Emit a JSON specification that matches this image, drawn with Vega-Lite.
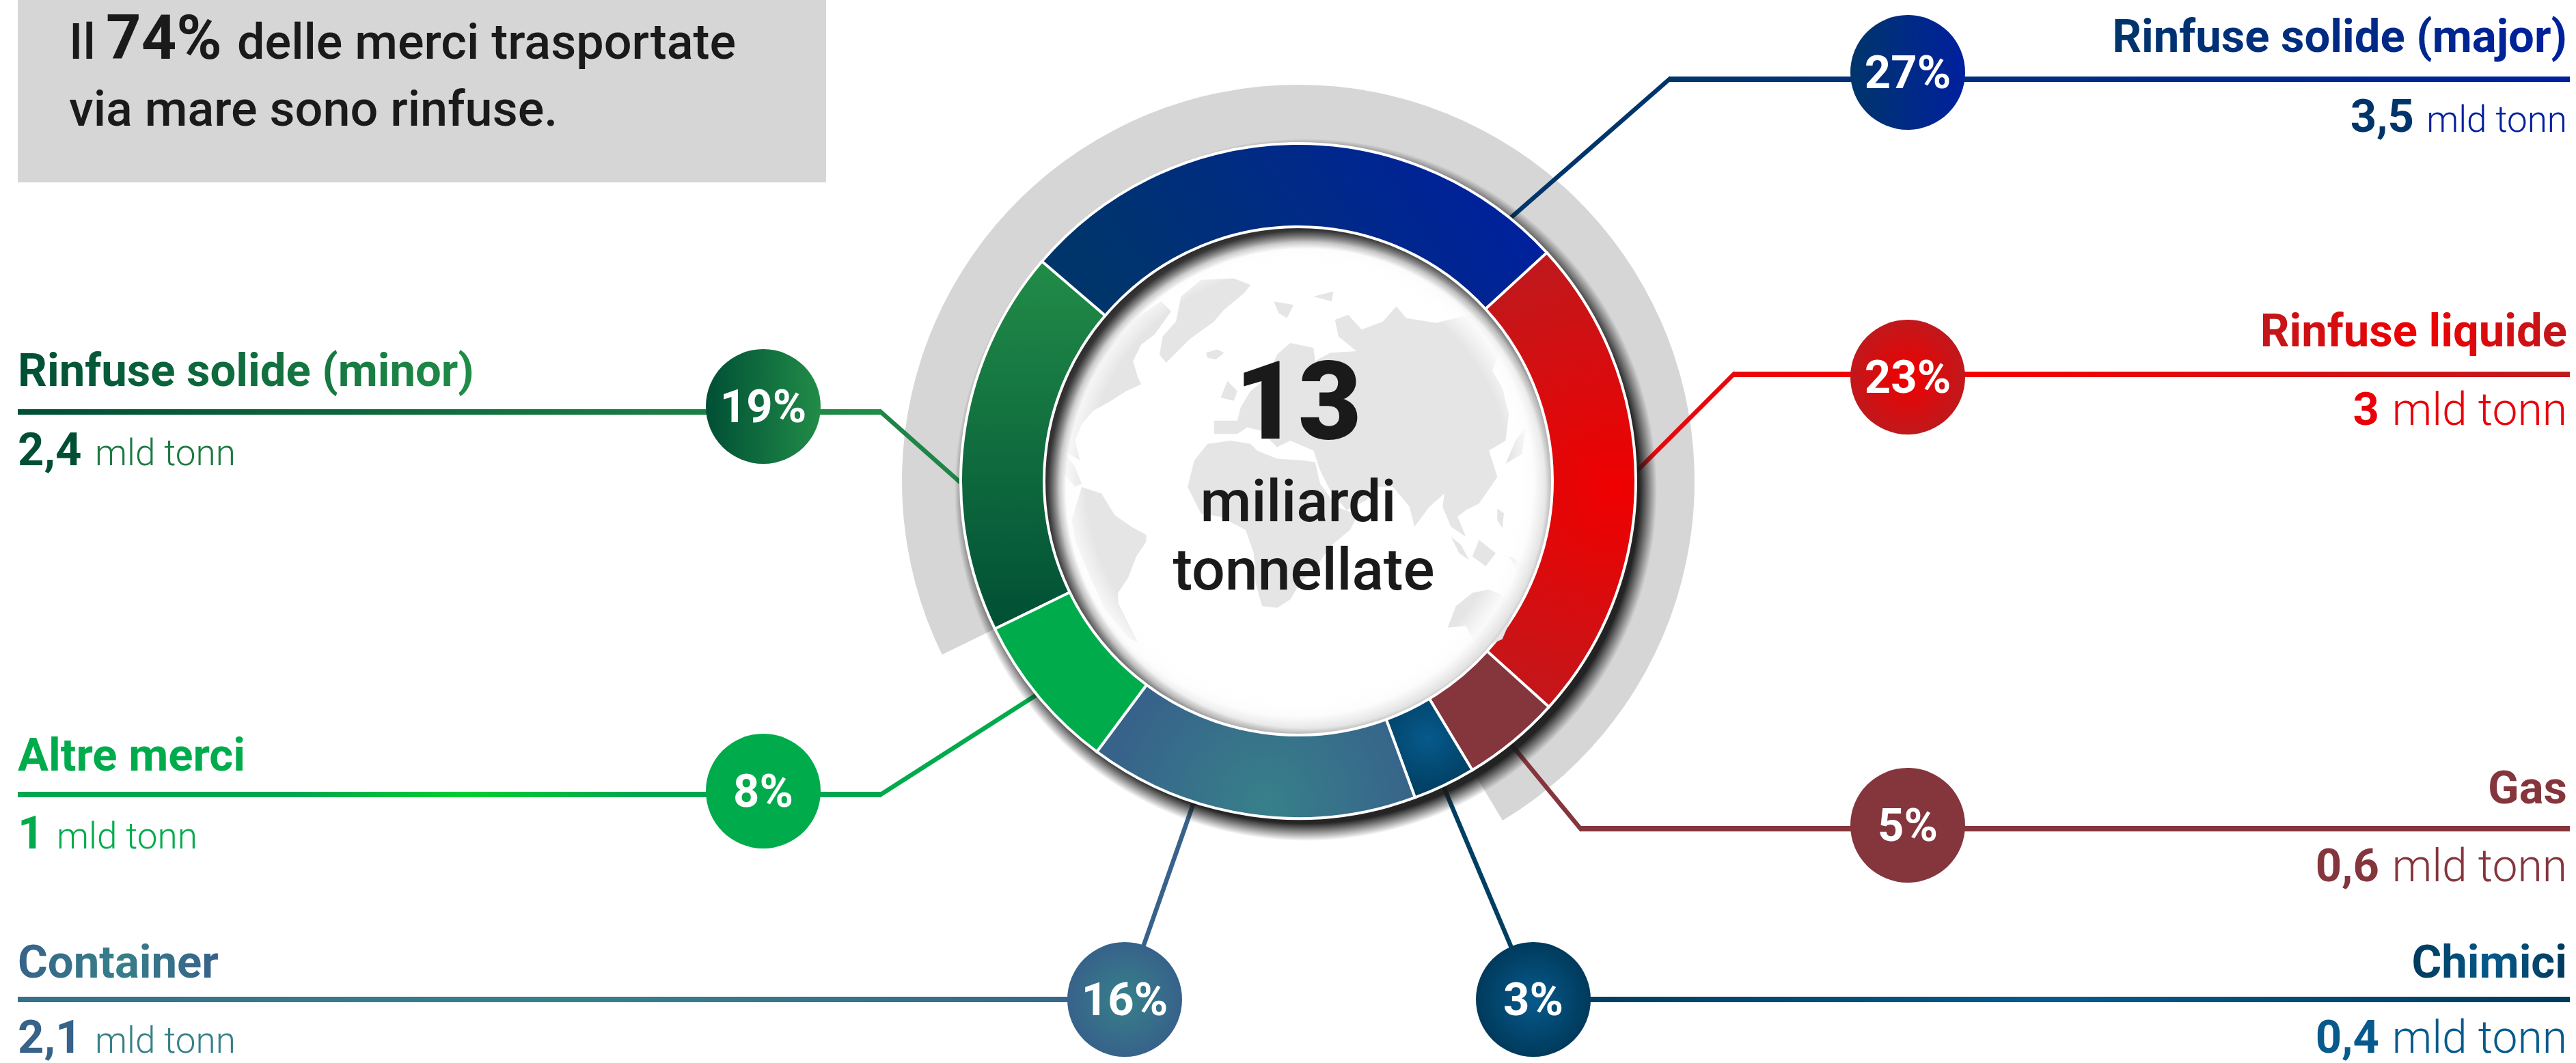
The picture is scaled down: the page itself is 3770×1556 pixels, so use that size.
{
"$schema":"https://vega.github.io/schema/vega-lite/v6.json",
"width":3770,"height":1556,"padding":0,"autosize":{"type":"none"},"background":"white",
"config":{"view":{"stroke":null},"text":{"font":"Roboto"}},
"params":[
{"name":"gMajor","expr":"{gradient:'linear',x1:0,y1:0,x2:1,y2:0,stops:[{offset:0,color:'#00356b'},{offset:1,color:'#00209e'}]}"},
{"name":"gMinor","expr":"{gradient:'linear',x1:0,y1:0,x2:1,y2:0,stops:[{offset:0,color:'#004f35'},{offset:1,color:'#218c48'}]}"},
{"name":"gRed","expr":"{gradient:'radial',x1:0.5,y1:0.5,r1:0,x2:0.5,y2:0.5,r2:0.5,stops:[{offset:0,color:'#f00000'},{offset:1,color:'#c0181c'}]}"},
{"name":"gCont","expr":"{gradient:'radial',x1:0.5,y1:0.5,r1:0,x2:0.5,y2:0.5,r2:0.5,stops:[{offset:0,color:'#37808a'},{offset:1,color:'#37628a'}]}"},
{"name":"gChim","expr":"{gradient:'radial',x1:0.5,y1:0.5,r1:0,x2:0.5,y2:0.5,r2:0.5,stops:[{offset:0,color:'#075a8c'},{offset:1,color:'#003a5c'}]}"},
{"name":"lAltre","expr":"{gradient:'linear',x1:0,y1:0,x2:1,y2:0,stops:[{offset:0.32,color:'#00a651'},{offset:0.52,color:'#00cf30'},{offset:0.72,color:'#00a651'}]}"},
{"name":"lRed","expr":"{gradient:'linear',x1:0,y1:0,x2:1,y2:0,stops:[{offset:0,color:'#e8070c'},{offset:0.27,color:'#f50000'},{offset:1,color:'#bf1b1f'}]}"},
{"name":"lCont","expr":"{gradient:'linear',x1:0,y1:0,x2:1,y2:0,stops:[{offset:0,color:'#37708a'},{offset:0.5,color:'#37808a'},{offset:1,color:'#37658a'}]}"},
{"name":"rMajor","expr":"{gradient:'linear',x1:0.05,y1:0.5,x2:0.95,y2:0.3,stops:[{offset:0,color:'#00356b'},{offset:1,color:'#00209e'}]}"},
{"name":"rMinor","expr":"{gradient:'linear',x1:0.5,y1:0,x2:0.5,y2:1,stops:[{offset:0,color:'#218c48'},{offset:1,color:'#004f35'}]}"},
{"name":"rRed","expr":"{gradient:'radial',x1:0.62,y1:0.52,r1:0,x2:0.62,y2:0.52,r2:0.52,stops:[{offset:0,color:'#f00000'},{offset:1,color:'#c0181c'}]}"},
{"name":"rCont","expr":"{gradient:'radial',x1:0.53,y1:0.66,r1:0,x2:0.53,y2:0.66,r2:0.5,stops:[{offset:0,color:'#37808a'},{offset:1,color:'#37628a'}]}"},
{"name":"rChim","expr":"{gradient:'radial',x1:0.48,y1:0.4,r1:0,x2:0.48,y2:0.4,r2:0.55,stops:[{offset:0,color:'#075a8c'},{offset:1,color:'#003f62'}]}"},
{"name":"ombra","expr":"{gradient:'radial',x1:0.5,y1:0.5,r1:0,x2:0.5,y2:0.5,r2:0.5,stops:[{offset:0,color:'rgba(25,25,25,0.95)'},{offset:0.95,color:'rgba(25,25,25,0.95)'},{offset:1,color:'rgba(25,25,25,0)'}]}"},
{"name":"bordo","expr":"{gradient:'radial',x1:0.5,y1:0.5,r1:0,x2:0.5,y2:0.5,r2:0.5,stops:[{offset:0,color:'rgba(255,255,255,0)'},{offset:0.84,color:'rgba(255,255,255,0)'},{offset:0.93,color:'rgba(252,252,252,0.9)'},{offset:0.985,color:'rgba(228,228,228,1)'},{offset:1,color:'rgba(222,222,222,1)'}]}"},
{"name":"interna","expr":"{gradient:'radial',x1:0.515,y1:0.515,r1:0,x2:0.515,y2:0.515,r2:0.524,stops:[{offset:0.905,color:'rgba(0,0,0,0)'},{offset:0.93,color:'rgba(20,20,20,0.2)'},{offset:0.955,color:'rgba(30,30,30,0.6)'},{offset:0.975,color:'rgba(40,40,40,0.93)'},{offset:1,color:'rgba(40,40,40,1)'}]}"}
],
"datasets":{
"centro":[{"col":13,"riga":19}],
"settori":[
{"categoria":"Rinfuse solide (minor)","quota":18.5,"ordine":1,"col":13,"riga":19},
{"categoria":"Rinfuse solide (major)","quota":26.9,"ordine":2,"col":13,"riga":19},
{"categoria":"Rinfuse liquide","quota":23.5,"ordine":3,"col":13,"riga":19},
{"categoria":"Gas","quota":4.7,"ordine":4,"col":13,"riga":19},
{"categoria":"Chimici","quota":3.0,"ordine":5,"col":13,"riga":19},
{"categoria":"Container","quota":15.8,"ordine":6,"col":13,"riga":19},
{"categoria":"Altre merci","quota":7.6,"ordine":7,"col":13,"riga":19}
],
"raccordi":[
{"categoria":"Rinfuse solide (major)","col":20,"riga":4},{"categoria":"Rinfuse solide (major)","col":16,"riga":8},
{"categoria":"Rinfuse liquide","col":21,"riga":10},{"categoria":"Rinfuse liquide","col":19,"riga":18},
{"categoria":"Gas","col":18,"riga":31},{"categoria":"Gas","col":16,"riga":23},
{"categoria":"Chimici","col":17,"riga":35},{"categoria":"Chimici","col":15,"riga":25},
{"categoria":"Container","col":11,"riga":35},{"categoria":"Container","col":12,"riga":29},
{"categoria":"Altre merci","col":8,"riga":27},{"categoria":"Altre merci","col":10,"riga":22},
{"categoria":"Rinfuse solide (minor)","col":8,"riga":14},{"categoria":"Rinfuse solide (minor)","col":9,"riga":19}
],
"linee":[
{"serie":"Rinfuse solide (major)","col":20,"col2":26,"riga":4},
{"serie":"Rinfuse liquide linea","col":21,"col2":26,"riga":10},
{"serie":"Gas","col":18,"col2":26,"riga":31},
{"serie":"Chimici","col":17,"col2":26,"riga":35},
{"serie":"Container linea","col":0,"col2":11,"riga":35},
{"serie":"Altre merci linea","col":0,"col2":8,"riga":27},
{"serie":"Rinfuse solide (minor)","col":0,"col2":8,"riga":14}
],
"cerchi":[
{"serie":"Rinfuse solide (major)","testo":"27%","col":22,"riga":3},
{"serie":"Rinfuse liquide","testo":"23%","col":22,"riga":11},
{"serie":"Gas","testo":"5%","col":22,"riga":30},
{"serie":"Chimici","testo":"3%","col":17,"riga":35},
{"serie":"Container","testo":"16%","col":11,"riga":35},
{"serie":"Altre merci","testo":"8%","col":6,"riga":26},
{"serie":"Rinfuse solide (minor)","testo":"19%","col":6,"riga":13}
],
"grassettoDx":[
{"serie":"Rinfuse solide (major)","testo":"Rinfuse solide (major)","col":25,"riga":1},
{"serie":"Rinfuse liquide","testo":"Rinfuse liquide","col":25,"riga":9},
{"serie":"Gas","testo":"Gas","col":25,"riga":28},
{"serie":"Chimici","testo":"Chimici","col":25,"riga":34},
{"serie":"major num","testo":"3,5","col":24,"riga":6},
{"serie":"liquide num","testo":"3","col":23,"riga":15},
{"serie":"Gas","testo":"0,6","col":23,"riga":33},
{"serie":"chimici num","testo":"0,4","col":23,"riga":36}
],
"grassettoSx":[
{"serie":"Rinfuse solide (minor)","testo":"Rinfuse solide (minor)","col":0,"riga":12},
{"serie":"Altre merci","testo":"Altre merci","col":0,"riga":24},
{"serie":"Container","testo":"Container","col":0,"riga":34},
{"serie":"minor num","testo":"2,4","col":0,"riga":17},
{"serie":"Altre merci","testo":"1","col":0,"riga":32},
{"serie":"container num","testo":"2,1","col":0,"riga":36}
],
"unitaSx":[
{"serie":"minor unit","testo":"mld tonn","col":3,"riga":17},
{"serie":"Altre merci","testo":"mld tonn","col":1,"riga":32},
{"serie":"container unit","testo":"mld tonn","col":3,"riga":36}
],
"unitaDxPiccola":[{"serie":"major unit","testo":"mld tonn","col":25,"riga":6}],
"unitaDx":[
{"serie":"liquide num","testo":"mld tonn","col":25,"riga":15},
{"serie":"Gas","testo":"mld tonn","col":25,"riga":33},
{"serie":"chimici num","testo":"mld tonn","col":25,"riga":36}
],
"riquadro":[{"col":0,"col2":7,"riga":0,"riga2":7}],
"titolo":[
{"testo":"Il","col":2,"riga":2},
{"testo":"delle merci trasportate","col":5,"riga":2},
{"testo":"via mare sono rinfuse.","col":2,"riga":5}
],
"titoloForte":[{"testo":"74%","col":4,"riga":2}],
"rinfuse":[{"gruppo":"Rinfuse","quota":73.6,"col":13,"riga":19}],
"centrale":[{"testo":"miliardi","col":13,"riga":20},{"testo":"tonnellate","col":14,"riga":21}],
"totale":[{"testo":"13","col":13,"riga":16}]
},
"encoding":{
"x":{"field":"col","type":"quantitative","axis":null,"scale":{"domain":[0,1,2,3,4,5,6,7,8,9,10,11,12,13,14,15,16,17,18,19,20,21,22,23,24,25,26],"range":[26,83,101,139,155,347,1117,1209,1289,1403,1514,1646,1747,1900,1908,2112,2212,2244,2313,2398,2443,2537,2792,3482,3533,3757,3761]}},
"y":{"field":"riga","type":"quantitative","axis":null,"scale":{"domain":[0,1,2,3,4,5,6,7,8,9,10,11,12,13,14,15,16,17,18,19,20,21,22,23,24,25,26,27,28,29,30,31,32,33,34,35,36],"range":[0,76,86,106,116,184,193,267,318,507,548,552,565,595,603,622,642,681,687,704,763,863,1019,1090,1128,1150,1158,1163,1176,1175,1208,1213,1242,1290,1431,1463,1541]}}
},
"layer":[
{"data":{"name":"riquadro"},"mark":{"type":"rect","color":"#d6d6d6"},"encoding":{"x2":{"field":"col2"},"y2":{"field":"riga2"}}},
{"data":{"name":"rinfuse"},"mark":{"type":"arc","radius":580,"radius2":494,"color":"#d6d6d6"},"encoding":{"theta":{"field":"quota","type":"quantitative","stack":true,"scale":{"domain":[0,100],"range":[4.2586,10.5418]}}}},
{"data":{"name":"raccordi"},"mark":{"type":"line","strokeWidth":6.5,"strokeCap":"square"},"encoding":{"stroke":{"field":"categoria","type":"nominal","legend":null,"scale":{"domain":["Rinfuse solide (major)","Rinfuse liquide","Gas","Chimici","Container","Altre merci","Rinfuse solide (minor)"],"range":["#00356b","#e8070c","#85353c","#003f62","#37628a","#00ab4c","#1f8446"]}}}},
{"data":{"name":"linee"},"mark":{"type":"rect","height":8},"encoding":{"x2":{"field":"col2"},"color":{"field":"serie","type":"nominal","legend":null,"scale":{"domain":["Rinfuse solide (major)","Rinfuse liquide","Gas","Chimici","Container","Altre merci","Rinfuse solide (minor)","Rinfuse liquide linea","Altre merci linea","Container linea","major num","major unit","minor num","minor unit","liquide num","container num","container unit","chimici num"],"range":[{"signal":"gMajor"},{"signal":"gRed"},"#85353c",{"signal":"gChim"},{"signal":"gCont"},"#00ab4c",{"signal":"gMinor"},{"signal":"lRed"},{"signal":"lAltre"},{"signal":"lCont"},"#00356b","#00209e","#004f35","#1c7a43","#e8000a","#37628a","#37808a","#075a8c"]}}}},
{"data":{"name":"centro"},"mark":{"type":"point","filled":true,"opacity":1,"size":1056784,"fill":{"expr":"ombra"},"xOffset":11,"yOffset":13}},
{"data":{"name":"settori"},"mark":{"type":"arc","radius":494,"radius2":372,"stroke":"white","strokeWidth":4},"encoding":{"theta":{"field":"quota","type":"quantitative","stack":true,"scale":{"domain":[0,100],"range":[4.2586,10.5418]}},"order":{"field":"ordine"},"fill":{"field":"categoria","type":"nominal","legend":null,"scale":{"domain":["Rinfuse solide (major)","Rinfuse liquide","Gas","Chimici","Container","Altre merci","Rinfuse solide (minor)"],"range":[{"signal":"rMajor"},{"signal":"rRed"},"#85353c",{"signal":"rChim"},{"signal":"rCont"},"#00ab4c",{"signal":"rMinor"}]}}}},
{"data":{"name":"centro"},"mark":{"type":"point","filled":true,"opacity":1,"size":553536,"color":"white"}},
{"data":{"values":{"type":"FeatureCollection","features":[
{"type":"Feature","properties":{"nome":"Groenlandia"},"geometry":{"type":"Polygon","coordinates":[[[430,225],[490,175],[590,170],[640,190],[620,215],[560,265],[530,300],[455,355],[385,425],[365,400],[375,345],[415,300],[430,225]]]}},
{"type":"Feature","properties":{"nome":"Islanda"},"geometry":{"type":"Polygon","coordinates":[[[505,395],[540,385],[560,395],[535,415],[510,410],[505,395]]]}},
{"type":"Feature","properties":{"nome":"Nord America"},"geometry":{"type":"Polygon","coordinates":[[[230,360],[300,285],[370,240],[400,270],[350,340],[310,370],[285,420],[300,470],[310,490],[265,510],[210,545],[165,570],[130,610],[110,660],[125,720],[75,690],[60,620],[75,520],[120,440],[175,400],[230,360]]]}},
{"type":"Feature","properties":{"nome":"Centro America"},"geometry":{"type":"Polygon","coordinates":[[[75,690],[110,740],[130,790],[110,800],[70,750],[75,690]]]}},
{"type":"Feature","properties":{"nome":"Sud America"},"geometry":{"type":"Polygon","coordinates":[[[130,800],[190,820],[230,885],[280,920],[325,945],[325,965],[295,1010],[270,1075],[240,1120],[240,1150],[265,1200],[300,1270],[270,1255],[200,1170],[150,1060],[110,960],[100,900],[130,800]]]}},
{"type":"Feature","properties":{"nome":"Africa"},"geometry":{"type":"Polygon","coordinates":[[[510,670],[580,660],[640,670],[660,690],[720,715],[800,720],[835,725],[850,790],[900,860],[965,885],[940,930],[880,980],[840,1040],[790,1090],[760,1140],[720,1165],[675,1160],[655,1090],[650,1000],[625,930],[550,890],[490,880],[450,800],[470,720],[510,670]]]}},
{"type":"Feature","properties":{"nome":"Madagascar"},"geometry":{"type":"Polygon","coordinates":[[[795,965],[815,950],[810,990],[795,1000],[795,965]]]}},
{"type":"Feature","properties":{"nome":"Eurasia"},"geometry":{"type":"Polygon","coordinates":[[[530,600],[600,600],[610,560],[640,510],[690,470],[720,400],[760,365],[830,380],[835,420],[880,395],[960,390],[905,345],[895,295],[935,280],[975,325],[1040,300],[1080,255],[1110,290],[1200,305],[1300,280],[1360,290],[1400,370],[1370,450],[1400,500],[1420,580],[1410,660],[1360,690],[1385,770],[1330,850],[1290,870],[1265,890],[1290,950],[1245,920],[1220,860],[1225,820],[1180,860],[1135,920],[1120,860],[1070,800],[1020,800],[990,840],[930,870],[880,810],[850,750],[830,690],[760,660],[720,680],[670,630],[630,620],[600,640],[530,640],[530,600]]]}},
{"type":"Feature","properties":{"nome":"Gran Bretagna"},"geometry":{"type":"Polygon","coordinates":[[[550,530],[570,480],[600,510],[590,540],[550,530]]]}},
{"type":"Feature","properties":{"nome":"Sumatra"},"geometry":{"type":"Polygon","coordinates":[[[1245,950],[1275,975],[1300,1020],[1270,1000],[1245,950]]]}},
{"type":"Feature","properties":{"nome":"Borneo"},"geometry":{"type":"Polygon","coordinates":[[[1330,960],[1380,1000],[1350,1040],[1310,1010],[1330,960]]]}},
{"type":"Feature","properties":{"nome":"Nuova Guinea"},"geometry":{"type":"Polygon","coordinates":[[[1420,1010],[1490,1040],[1450,1060],[1420,1010]]]}},
{"type":"Feature","properties":{"nome":"Filippine"},"geometry":{"type":"Polygon","coordinates":[[[1385,865],[1405,880],[1400,925],[1385,900],[1385,865]]]}},
{"type":"Feature","properties":{"nome":"Giappone"},"geometry":{"type":"Polygon","coordinates":[[[1440,660],[1470,620],[1460,700],[1410,730],[1440,660]]]}},
{"type":"Feature","properties":{"nome":"Australia"},"geometry":{"type":"Polygon","coordinates":[[[1235,1225],[1260,1160],[1310,1120],[1360,1110],[1410,1130],[1430,1190],[1400,1260],[1330,1290],[1290,1220],[1235,1225]]]}},
{"type":"Feature","properties":{"nome":"Svalbard"},"geometry":{"type":"Polygon","coordinates":[[[710,240],[770,250],[750,290],[725,275],[710,240]]]}},
{"type":"Feature","properties":{"nome":"Terra di Francesco Giuseppe"},"geometry":{"type":"Polygon","coordinates":[[[830,225],[890,210],[885,240],[830,225]]]}}
]},"format":{"type":"json","property":"features"}},
"projection":{"type":"identity","scale":0.4847,"translate":[1520,325]},
"mark":{"type":"geoshape","color":"#e5e5e5","strokeWidth":0},
"encoding":{"x":null,"y":null}},
{"data":{"name":"centro"},"mark":{"type":"point","filled":true,"opacity":1,"size":547600,"fill":{"expr":"bordo"}}},
{"data":{"name":"centro"},"mark":{"type":"point","filled":true,"opacity":1,"size":547600,"fill":{"expr":"interna"}}},
{"data":{"name":"cerchi"},"mark":{"type":"point","filled":true,"opacity":1,"size":28224},"encoding":{"color":{"field":"serie","type":"nominal","legend":null}}},
{"data":{"name":"cerchi"},"mark":{"type":"text","font":"Roboto","fontSize":67,"fontWeight":700,"color":"white","baseline":"middle","align":"center","dy":3},"encoding":{"text":{"field":"testo"}}},
{"data":{"name":"grassettoDx"},"mark":{"type":"text","font":"Roboto","fontSize":67,"fontWeight":700,"align":"right","baseline":"alphabetic"},"encoding":{"text":{"field":"testo"},"color":{"field":"serie","type":"nominal","legend":null}}},
{"data":{"name":"grassettoSx"},"mark":{"type":"text","font":"Roboto","fontSize":67,"fontWeight":700,"align":"left","baseline":"alphabetic"},"encoding":{"text":{"field":"testo"},"color":{"field":"serie","type":"nominal","legend":null}}},
{"data":{"name":"unitaSx"},"mark":{"type":"text","font":"Roboto","fontSize":53,"fontWeight":300,"align":"left","baseline":"alphabetic"},"encoding":{"text":{"field":"testo"},"color":{"field":"serie","type":"nominal","legend":null}}},
{"data":{"name":"unitaDxPiccola"},"mark":{"type":"text","font":"Roboto","fontSize":53,"fontWeight":300,"align":"right","baseline":"alphabetic"},"encoding":{"text":{"field":"testo"},"color":{"field":"serie","type":"nominal","legend":null}}},
{"data":{"name":"unitaDx"},"mark":{"type":"text","font":"Roboto","fontSize":66,"fontWeight":300,"align":"right","baseline":"alphabetic"},"encoding":{"text":{"field":"testo"},"color":{"field":"serie","type":"nominal","legend":null}}},
{"data":{"name":"titolo"},"mark":{"type":"text","font":"Roboto","fontSize":72,"fontWeight":500,"color":"#1a1a1a","align":"left","baseline":"alphabetic"},"encoding":{"text":{"field":"testo"}}},
{"data":{"name":"titoloForte"},"mark":{"type":"text","font":"Roboto","fontSize":90,"fontWeight":700,"color":"#1a1a1a","align":"left","baseline":"alphabetic"},"encoding":{"text":{"field":"testo"}}},
{"data":{"name":"totale"},"mark":{"type":"text","font":"Roboto","fontSize":160,"fontWeight":900,"color":"#1a1a1a","align":"center","baseline":"alphabetic"},"encoding":{"text":{"field":"testo"}}},
{"data":{"name":"centrale"},"mark":{"type":"text","font":"Roboto","fontSize":86,"fontWeight":500,"color":"#1a1a1a","align":"center","baseline":"alphabetic"},"encoding":{"text":{"field":"testo"}}}
]
}
